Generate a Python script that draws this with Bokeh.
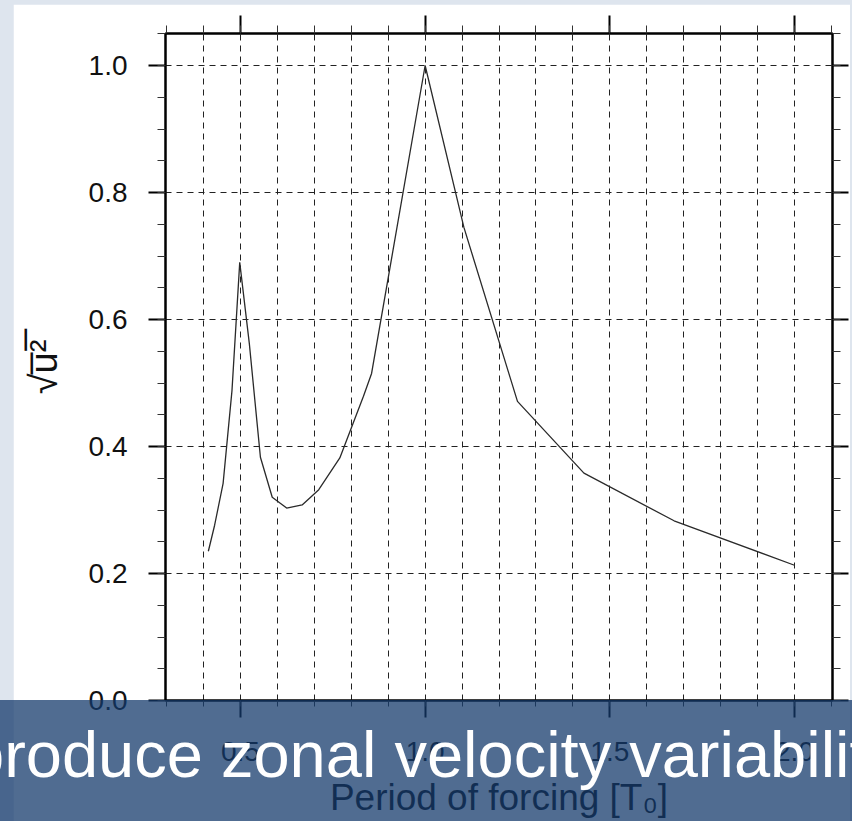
from bokeh.plotting import figure
from bokeh.layouts import column
from bokeh.models import (FixedTicker, LinearAxis, Range1d, Div,
                          PrintfTickFormatter, CustomJSTickFormatter)
from bokeh.embed import file_html
from bokeh.resources import INLINE

# ---- data ----
period = [0.413, 0.430, 0.453, 0.477, 0.498, 0.524, 0.554, 0.586, 0.625, 0.667,
          0.712, 0.769, 0.833, 0.855, 1.000, 1.105, 1.250, 1.430, 1.674, 2.000]
u_rms = [0.235, 0.276, 0.342, 0.488, 0.690, 0.562, 0.383, 0.320, 0.303, 0.308,
         0.332, 0.382, 0.479, 0.515, 1.000, 0.745, 0.471, 0.358, 0.283, 0.213]

x_major = [0.5, 1.0, 1.5, 2.0]
x_minor = [round(0.3 + 0.1 * i, 1) for i in range(19)]
x_grid = [round(0.4 + 0.1 * i, 1) for i in range(17)]
y_major = [0.0, 0.2, 0.4, 0.6, 0.8, 1.0]
y_minor = [round(0.05 * i, 2) for i in range(22)]
y_grid = [0.2, 0.4, 0.6, 0.8, 1.0]

x_label = "Period of forcing [T\u2080]"
y_label = "\u221Au\u0305\u00B2\u0305"
banner_text = "produce zonal velocity variabilit"

FONT = "Liberation Sans"

p = figure(width=837, height=817, x_range=Range1d(0.297, 2.103), y_range=Range1d(0.0, 1.0504),
           output_backend="svg", toolbar_location=None,
           min_border_left=152, min_border_right=18, min_border_top=29, min_border_bottom=121)
p.margin = (4, 2, 0, 13)

p.border_fill_color = "white"
p.background_fill_color = "white"
p.outline_line_color = "black"
p.outline_line_width = 2

# grid
p.xgrid.ticker = FixedTicker(ticks=x_grid)
p.ygrid.ticker = FixedTicker(ticks=y_grid)
for g in (p.xgrid, p.ygrid):
    g.grid_line_color = "#222222"
    g.grid_line_width = 1
    g.grid_line_dash = "6 5"

xt = FixedTicker(ticks=x_major, minor_ticks=x_minor)
yt = FixedTicker(ticks=y_major, minor_ticks=y_minor)

def style_axis(ax, major_out, minor_out):
    ax.axis_line_color = "black"
    ax.axis_line_width = 2
    ax.major_tick_in = 0
    ax.minor_tick_in = 0
    ax.major_tick_out = major_out
    ax.minor_tick_out = minor_out
    ax.major_tick_line_width = 2
    ax.minor_tick_line_width = 1
    ax.major_tick_line_color = "black"
    ax.minor_tick_line_color = "#333333"
    ax.major_label_text_font = FONT
    ax.major_label_text_font_size = "28px"
    ax.major_label_text_color = "#111111"
    ax.axis_label_text_font = FONT
    ax.axis_label_text_font_style = "normal"
    ax.axis_label_text_color = "#111111"

xa = p.xaxis[0]
xa.ticker = xt
xa.formatter = PrintfTickFormatter(format="%.1f")
style_axis(xa, 17, 6)
xa.major_label_standoff = 24
xa.axis_label = x_label
xa.axis_label_text_font_size = "37px"
xa.axis_label_standoff = 13

ya = p.yaxis[0]
ya.ticker = yt
ya.formatter = PrintfTickFormatter(format="%.1f")
style_axis(ya, 17, 8)
ya.major_label_standoff = 21
ya.axis_label = y_label
ya.axis_label_text_font_size = "38px"
ya.axis_label_standoff = 21

blank = CustomJSTickFormatter(code="return ''")
top = LinearAxis(ticker=xt, formatter=blank)
style_axis(top, 18, 8)
p.add_layout(top, "above")
right = LinearAxis(ticker=yt, formatter=blank)
style_axis(right, 16, 8)
p.add_layout(right, "right")

p.line(period, u_rms, line_color="#2a2a2a", line_width=1.3)

# translucent caption banner laid over the lower part of the chart
banner = Div(text=banner_text, width=852, height=121, margin=(0, 0, 0, 0),
             styles={"position": "absolute", "left": "0px", "top": "700px", "margin": "0px",
                     "background-color": "rgba(19, 57, 106, 0.74)",
                     "color": "white", "font-family": FONT, "font-size": "65px",
                     "line-height": "65px", "white-space": "nowrap", "overflow": "hidden",
                     "text-indent": "-32px", "padding-top": "22px", "box-sizing": "border-box",
                     "z-index": "10"})

page = column(p, banner, width=852, height=821,
              styles={"background-color": "#dee5ee", "position": "relative"})

open("out.html", "w").write(file_html(page, INLINE))
